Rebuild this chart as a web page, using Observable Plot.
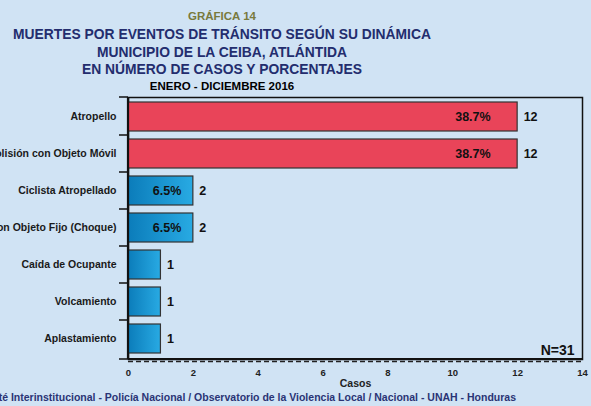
<!DOCTYPE html>
<html><head><meta charset="utf-8">
<script src="https://cdn.jsdelivr.net/npm/d3@7"></script>
<script src="https://cdn.jsdelivr.net/npm/@observablehq/plot@0.6"></script>
<style>
html,body{margin:0;padding:0;background:#d0e3f4;width:591px;height:406px;overflow:hidden;font-family:"Liberation Sans",Arial,sans-serif;position:relative;}
.t{position:absolute;left:0;width:444px;text-align:center;font-weight:bold;white-space:nowrap;line-height:1;}
.m{font-size:13.85px;color:#232d6e;}
#chart{position:absolute;left:0;top:90px;}
#foot{position:absolute;right:75px;top:392px;font-size:10.5px;font-weight:bold;color:#2a3475;white-space:nowrap;line-height:1;}
</style></head><body>
<div class="t" style="top:11px;font-size:11.5px;color:#797a3c">GRÁFICA 14</div>
<div class="t m" style="top:27.5px">MUERTES POR EVENTOS DE TRÁNSITO SEGÚN SU DINÁMICA</div>
<div class="t m" style="top:45.5px">MUNICIPIO DE LA CEIBA, ATLÁNTIDA</div>
<div class="t m" style="top:63px">EN NÚMERO DE CASOS Y PORCENTAJES</div>
<div class="t" style="top:81px;font-size:11.5px;color:#000">ENERO - DICIEMBRE 2016</div>
<div id="chart"></div>
<div id="foot">Comité Interinstitucional - Policía Nacional / Observatorio de la Violencia Local / Nacional - UNAH - Honduras</div>
<script>
const categories = ["Atropello", "Colisión con Objeto Móvil", "Ciclista Atropellado", "Colisión con Objeto Fijo (Choque)", "Caída de Ocupante", "Volcamiento", "Aplastamiento"];
const casos = [12, 12, 2, 2, 1, 1, 1];
const porcentajes = ["38.7%", "38.7%", "6.5%", "6.5%", "", "", ""];
const xTicks = [0, 2, 4, 6, 8, 10, 12, 14];
const totalLabel = ["N=31"];
const axisTitle = ["Casos"];

const data = categories.map((c, i) => ({cat: c, casos: casos[i], pct: porcentajes[i]}));
const maxVal = d3.max(casos);
const topBars = data.filter(d => d.casos === maxVal);
const restBars = data.filter(d => d.casos !== maxVal);

function bandTicks(index, scales, values, dims) {
  const y = scales.y;
  const bw = y.bandwidth();
  const ys = categories.map(c => y(c));
  const t = dims.marginTop, b = dims.height - dims.marginBottom;
  const l = dims.marginLeft, r = dims.width - dims.marginRight;
  const pos = [t];
  for (let i = 0; i < ys.length - 1; i++) pos.push((ys[i] + bw + ys[i + 1]) / 2);
  pos.push(b);
  const g = d3.create("svg:g");
  g.selectAll("line.tk").data(pos).join("line").attr("class", "tk")
    .attr("x1", l - 9).attr("x2", l).attr("y1", d => d).attr("y2", d => d)
    .attr("stroke", "#111").attr("stroke-width", 1.5);
  g.append("line").attr("x1", l).attr("x2", l).attr("y1", t).attr("y2", b)
    .attr("stroke", "#111").attr("stroke-width", 2.2);
  g.append("line").attr("x1", l).attr("x2", r).attr("y1", b).attr("y2", b)
    .attr("stroke", "#111").attr("stroke-width", 2);
  g.append("line").attr("x1", l).attr("x2", r).attr("y1", b + 2.5).attr("y2", b + 2.5)
    .attr("stroke", "#222").attr("stroke-width", 1.5).attr("stroke-dasharray", "5,3");
  return g.node();
}

const svg = Plot.plot({
  width: 591,
  height: 300,
  marginLeft: 128,
  marginRight: 9,
  marginTop: 7,
  marginBottom: 31,
  style: {background: "transparent", fontFamily: "'Liberation Sans', Arial, sans-serif", color: "#111", overflow: "visible"},
  x: {domain: [0, 14]},
  y: {domain: categories, paddingInner: 0.21, paddingOuter: 0.12},
  marks: [
    Plot.axisX({ticks: xTicks, tickSize: 0, tickPadding: 10, fontSize: 9.5, fontWeight: "bold", label: null, fill: "#222"}),
    Plot.axisY({tickSize: 0, tickPadding: 12, fontSize: 10.5, fontWeight: "bold", label: null, fill: "#1a1a1a"}),
    Plot.frame({stroke: "#111", strokeWidth: 1.5}),
    Plot.barX(topBars, {x: "casos", y: "cat", fill: "#e94459", stroke: "#333", strokeWidth: 1.2}),
    Plot.barX(restBars, {x: "casos", y: "cat", fill: "url(#gradAzul)", stroke: "#333", strokeWidth: 1.2}),
    Plot.text(topBars, {x: "casos", y: "cat", text: "pct", textAnchor: "end", dx: -27, fontSize: 12.5, fontWeight: "bold", fill: "#111"}),
    Plot.text(restBars, {x: "casos", y: "cat", text: "pct", textAnchor: "end", dx: -12, fontSize: 12.5, fontWeight: "bold", fill: "#111"}),
    Plot.text(data, {x: "casos", y: "cat", text: d => String(d.casos), textAnchor: "start", dx: 6, fontSize: 12.5, fontWeight: "bold", fill: "#111"}),
    Plot.text(totalLabel, {frameAnchor: "bottom-right", text: d => d, dx: -8, dy: -5, fontSize: 14, fontWeight: "bold", fill: "#111"}),
    Plot.text(axisTitle, {frameAnchor: "bottom", text: d => d, dy: 27, fontSize: 10.5, fontWeight: "bold", fill: "#222"}),
    bandTicks
  ]
});

const defs = d3.select(svg).insert("defs", ":first-child");
const gr = defs.append("linearGradient").attr("id", "gradAzul").attr("x1", "0").attr("x2", "1").attr("y1", "0").attr("y2", "0");
gr.append("stop").attr("offset", "0%").attr("stop-color", "#0b7cba");
gr.append("stop").attr("offset", "100%").attr("stop-color", "#28aae3");

document.getElementById("chart").appendChild(svg);
</script>
</body></html>
